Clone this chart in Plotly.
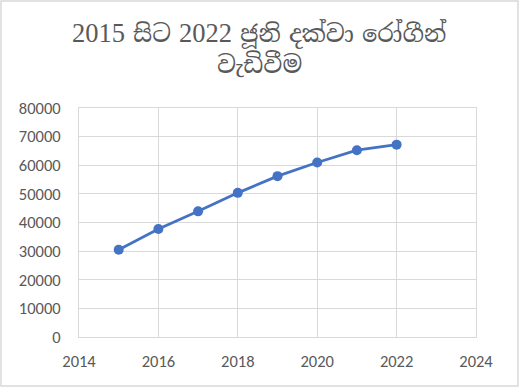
import plotly.graph_objects as go

years = [2015, 2016, 2017, 2018, 2019, 2020, 2021, 2022]
patients = [30500, 37700, 43900, 50350, 56200, 60950, 65250, 67200]
x_ticks = [2014, 2016, 2018, 2020, 2022, 2024]
y_ticks = [0, 10000, 20000, 30000, 40000, 50000, 60000, 70000, 80000]
title_words = ["2015", "සිට", "2022", "ජූනි", "දක්වා", "රෝගීන්"]
title_line2 = "වැඩිවීම"

W, H = 519, 387
ML, MR, MT, MB = 79, 43, 108, 50
PW, PH = W - ML - MR, H - MT - MB

grid = "#d9d9d9"
txt = "#595959"
serif = "Liberation Serif, Times New Roman, Noto Serif Sinhala, Noto Sans Sinhala, serif"
tick_font = dict(family="Calibri, Carlito, Liberation Sans, Arial, sans-serif", size=16.5, color=txt)
title_font = dict(family=serif, size=24, color=txt)

def fmt(word):
    if word.isdigit():
        return f'<span style="font-family:\'Liberation Serif\';font-size:26.5px">{word}</span>'
    return word

line1 = "\u00a0\u200a".join(fmt(w) for w in title_words)

def py(pix):
    return (H - MB - pix) / PH

fig = go.Figure()
fig.add_trace(go.Scatter(
    x=years, y=patients, mode="lines+markers",
    line=dict(color="#4472C4", width=2.75),
    marker=dict(color="#4472C4", size=10),
    showlegend=False,
))

fig.update_layout(
    width=W, height=H,
    margin=dict(l=ML, r=MR, t=MT, b=MB, pad=0),
    paper_bgcolor="white", plot_bgcolor="white",
    xaxis=dict(
        range=[2014, 2024], tickvals=x_ticks, ticktext=[str(v) for v in x_ticks],
        showgrid=True, gridcolor=grid, gridwidth=1,
        showline=True, linecolor=grid, linewidth=1, mirror=True,
        zeroline=False, ticks="", tickfont=tick_font, ticklabelstandoff=9,
        fixedrange=True,
    ),
    yaxis=dict(
        range=[0, 80000], tickvals=y_ticks, ticktext=[str(v) for v in y_ticks],
        showgrid=True, gridcolor=grid, gridwidth=1,
        showline=True, linecolor=grid, linewidth=1, mirror=True,
        zeroline=False, ticks="", tickfont=tick_font, ticklabelstandoff=14,
        fixedrange=True,
    ),
    annotations=[
        dict(text=line1, xref="paper", yref="paper", x=(259 - ML) / PW, y=py(34),
             xanchor="center", yanchor="middle", showarrow=False, font=title_font),
        dict(text=title_line2, xref="paper", yref="paper", x=(259 - ML) / PW, y=py(64),
             xanchor="center", yanchor="middle", showarrow=False, font=title_font),
    ],
    shapes=[dict(
        type="rect", xref="paper", yref="paper",
        x0=-(ML - 1) / PW, x1=1 + (MR - 1) / PW,
        y0=-(MB - 1) / PH, y1=1 + (MT - 1) / PH,
        line=dict(color=grid, width=1.5), fillcolor="rgba(0,0,0,0)", layer="below",
    )],
)

fig.write_html("out.html")
